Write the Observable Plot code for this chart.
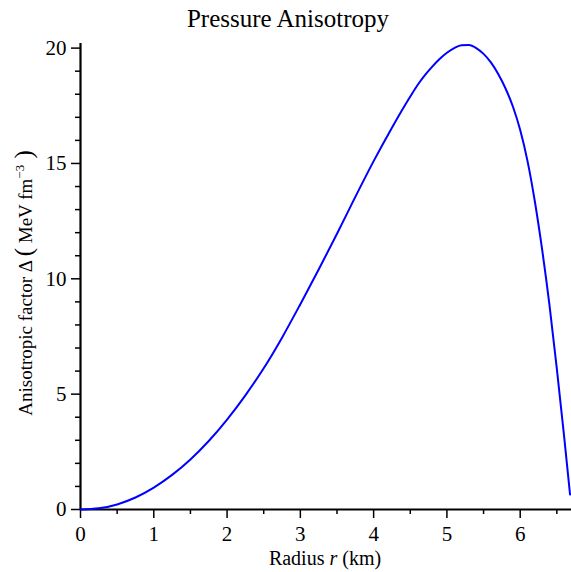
<!DOCTYPE html>
<html>
<head>
<meta charset="utf-8">
<script src="https://cdn.jsdelivr.net/npm/d3@7"></script>
<script src="https://cdn.jsdelivr.net/npm/@observablehq/plot@0.6"></script>
<style>
  html, body { margin: 0; padding: 0; background: white; }
  svg text { font-family: 'Liberation Serif', 'Times New Roman', serif !important; }
</style>
</head>
<body>
<div id="chart"></div>
<script>
const radius = [0, 0.25, 0.5, 0.75, 1.0, 1.25, 1.5, 1.75, 2.0, 2.25, 2.5, 2.75, 3.0, 3.25, 3.5, 3.75, 4.0, 4.25, 4.5, 4.6, 4.7, 4.8, 4.9, 5.0, 5.1, 5.2, 5.3, 5.4, 5.5, 5.6, 5.7, 5.8, 5.9, 6.0, 6.1, 6.2, 6.3, 6.4, 6.5, 6.6, 6.68];
const delta  = [0, 0.05, 0.22, 0.52, 0.95, 1.5, 2.17, 2.97, 3.9, 4.95, 6.12, 7.45, 8.9, 10.4, 11.95, 13.55, 15.1, 16.55, 17.9, 18.4, 18.83, 19.2, 19.53, 19.8, 20.0, 20.12, 20.13, 20.0, 19.75, 19.38, 18.88, 18.25, 17.47, 16.45, 15.1, 13.35, 11.25, 8.85, 6.1, 3.15, 0.65];
const xMajor = [0, 1, 2, 3, 4, 5, 6];
const xMinor = [0.5, 1.5, 2.5, 3.5, 4.5, 5.5, 6.5];
const yMajor = [0, 5, 10, 15, 20];
const yMinor = [1, 2, 3, 4, 6, 7, 8, 9, 11, 12, 13, 14, 16, 17, 18, 19];
const titleText = "Pressure Anisotropy";

const data = radius.map((r, i) => ({r, d: delta[i]}));
const font = "'Liberation Serif', 'Times New Roman', serif";

const svg = Plot.plot({
  width: 571,
  height: 572,
  marginTop: 43,
  marginBottom: 63,
  marginLeft: 80,
  marginRight: 0,
  x: {domain: [0, 6.7], label: null},
  y: {domain: [0, 20.2], label: null},
  style: {fontFamily: font, fontSize: "21px", color: "black", background: "white", overflow: "visible"},
  marks: [
    Plot.axisX(xMinor, {tickSize: 5, tickFormat: () => "", strokeWidth: 1.5, label: null}),
    Plot.axisX(xMajor, {tickSize: 9, tickPadding: 8, strokeWidth: 1.5, fontSize: 21, label: null}),
    Plot.axisY(yMinor, {tickSize: 5, tickFormat: () => "", strokeWidth: 1.5, label: null}),
    Plot.axisY(yMajor, {tickSize: 9, tickPadding: 5, strokeWidth: 1.5, fontSize: 21, label: null}),
    Plot.ruleX([0], {strokeWidth: 2.2}),
    Plot.ruleY([0], {strokeWidth: 2.2}),
    Plot.line(data, {x: "r", y: "d", stroke: "#0000ff", strokeWidth: 2, curve: "monotone-x"})
  ]
});

const s = d3.select(svg);

s.append("text")
  .attr("x", 288).attr("y", 27)
  .attr("text-anchor", "middle")
  .attr("font-size", 25).attr("fill", "black")
  .text(titleText);

const xl = s.append("text")
  .attr("x", 325).attr("y", 565)
  .attr("text-anchor", "middle")
  .attr("font-size", 20).attr("fill", "black");
xl.append("tspan").text("Radius ");
xl.append("tspan").attr("font-style", "italic").text("r");
xl.append("tspan").text(" (km)");

const yl = s.append("text")
  .attr("transform", "translate(32,283) rotate(-90)")
  .attr("text-anchor", "middle")
  .attr("font-size", 19).attr("fill", "black");
yl.append("tspan").text("Anisotropic factor Δ ");
yl.append("tspan").attr("font-size", 25).text("(");
yl.append("tspan").text(" MeV fm");
yl.append("tspan").attr("font-size", 13).attr("dy", -8).text("−3");
yl.append("tspan").attr("font-size", 25).attr("dy", 8).text(" )");

s.selectAll("text").attr("font-family", font);

document.getElementById("chart").appendChild(svg);
</script>
</body>
</html>
